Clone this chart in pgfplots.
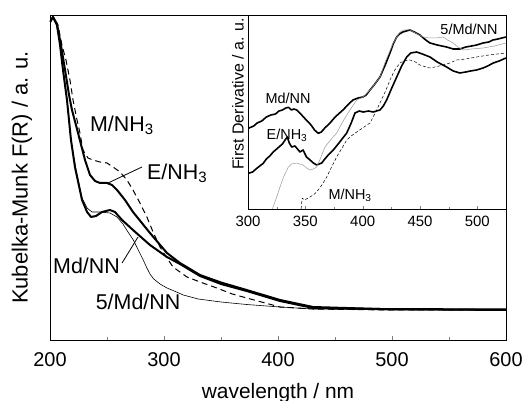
\documentclass[border=0pt]{standalone}
\usepackage{pgfplots}
\pgfplotsset{compat=1.18}
\usepackage{fontspec}
\setmainfont{Liberation Sans}
\begin{document}
\begin{tikzpicture}
% ---------------- main axis ----------------
\begin{axis}[
  at={(50bp,61bp)}, anchor=south west,
  width=456bp, height=325bp, scale only axis,
  xmin=200, xmax=600, ymin=0, ymax=325,
  xtick={200,300,400,500,600}, minor x tick num=1,
  ytick=\empty,
  xtick pos=bottom, tick align=inside,
  major tick length=4bp, minor tick length=3bp,
  /pgf/number format/assume math mode=true,
  xticklabel style={font=\fontsize{20}{22}\selectfont, anchor=base, yshift=-26bp, inner sep=0pt},
  xlabel={wavelength / nm}, ylabel={Kubelka-Munk F(R) / a. u.},
  xlabel style={font=\fontsize{21}{24}\selectfont, at={(axis description cs:0.5,0)}, anchor=base, yshift=-58bp, inner sep=0pt},
  ylabel style={font=\fontsize{22}{24}\selectfont, at={(axis description cs:0,0.5)}, anchor=center, yshift=28bp, inner sep=0pt},
  every axis plot/.append style={line join=round},
  axis line style={line width=0.8bp},
]
% Md/NN
\addplot[black, line width=2bp] coordinates {
(200,318)(202.6,323)(206.1,315)(208.8,295)(211.4,270)(214.9,240)(218.4,200)(221.9,173)(228.1,140)(232.5,128)(236,123)(240.4,124)(245.6,128)(252.6,130)(257,128)(263.2,120)(272.8,110)(287.7,95)(302.6,83)(314,76)(331.6,64)(350,56)(372.5,49)(401.8,39)(430.7,32)(489.5,31)(600,30)};
% E/NH3
\addplot[black, line width=2bp] coordinates {
(200,318)(202.6,323)(206.1,316)(209.6,295)(213.2,270)(216.7,245)(219.3,230)(224.6,207)(230.7,180)(235.1,165)(239.5,159)(243.9,157)(250,157)(254.4,155)(258.8,150)(265.8,140)(272.8,128)(287.7,107)(302.6,87)(314,77)(331.6,65)(350,57.5)(372.5,50)(401.8,40)(430.7,33)(489.5,31)(600,30.5)};
% M/NH3
\addplot[black, line width=1bp, dash pattern=on 6bp off 4bp] coordinates {
(200,318)(202.6,323)(207,315)(210.5,295)(214,280)(217.5,260)(220.2,240)(223.7,220)(226.3,207)(228.9,190)(233.3,182)(237.7,180)(243.9,178)(250,177)(255.3,173)(261.4,168)(267.5,160)(272.8,150)(278.9,137)(285,123)(290.4,108)(296.5,93)(302.6,82)(307.9,73)(314,68)(320.2,63)(331.6,58)(343.9,53)(360,46)(372.5,42)(401.8,33)(430.7,31)(500,30)(600,30)};
% 5/Md/NN
\addplot[black, line width=0.6bp] coordinates {
(200,318)(202.6,323)(206.1,315)(208.8,295)(211.4,270)(214.9,240)(218.4,200)(222.8,170)(228.1,142)(232.5,132)(236.8,128)(243.9,128)(252.6,127)(258.8,123)(264,116)(268.4,108)(273.1,100)(277,91)(281.8,80)(285,72)(287.7,66)(291,61)(296.5,56)(302.6,52)(309,49)(316.9,45)(330,41)(350,38)(372.5,35.5)(401.8,33)(430.7,31)(500,30)(600,30)};
% labels
\node[anchor=west, font=\fontsize{21.5}{24}\selectfont, inner sep=0pt] at (axis cs:235,215) {M/NH\textsubscript{3}};
\node[anchor=west, font=\fontsize{21.5}{24}\selectfont, inner sep=0pt] at (axis cs:285,167) {E/NH\textsubscript{3}};
\node[anchor=west, font=\fontsize{21.5}{24}\selectfont, inner sep=0pt] at (axis cs:202.6,74) {Md/NN};
\node[anchor=west, font=\fontsize{21.5}{24}\selectfont, inner sep=0pt] at (axis cs:240,38) {5/Md/NN};
\draw[line width=0.8bp] (axis cs:250.9,157) -- (axis cs:280.7,173);
\draw[line width=0.8bp] (axis cs:263.2,77) -- (axis cs:277.2,103);
\end{axis}
% ---------------- inset ----------------
\begin{axis}[
  at={(248bp,192bp)}, anchor=south west,
  width=258bp, height=194bp, scale only axis,
  xmin=300, xmax=525, ymin=0, ymax=194,
  xtick={300,350,400,450,500}, minor x tick num=1,
  ytick=\empty,
  xtick pos=bottom, tick align=inside,
  major tick length=3bp, minor tick length=2bp,
  /pgf/number format/assume math mode=true,
  xticklabel style={font=\fontsize{15}{17}\selectfont, anchor=base, yshift=-18bp, inner sep=0pt},
  ylabel={First Derivative / a. u.},
  ylabel style={font=\fontsize{16}{18}\selectfont, at={(axis description cs:0,0.593)}, anchor=center, yshift=10bp, inner sep=0pt},
  axis background/.style={fill=white},
  every axis plot/.append style={line join=round},
  axis line style={line width=0.8bp},
]
% Md/NN
\addplot[black, line width=1.6bp] coordinates {
(300.3,80.7)(305,83)(308,86)(312,88)(316,92)(320,94)(324,95)(327,98)(330,99)(333,101)(335.2,101.7)(338,99)(340,100)(342.5,99)(346,95)(350,90)(355,84)(358,79)(361.3,75.7)(364,77)(367,81)(371.5,86)(376,92)(382.8,99)(387,104)(391.5,109)(396,111)(400.3,112)(403,114)(406.4,119)(410,124)(415.1,132)(420,145)(423.8,156)(427,166)(429.7,172)(432,175)(435.1,177)(438,178)(441.2,179)(445,177)(449.9,174)(455,169)(458.7,166)(465,164)(473.2,162)(479,160)(484.8,160)(490,162)(495,163)(499.4,164)(505,166)(510,167)(513.6,169)(518,170)(524.9,172)};
% E/NH3
\addplot[black, line width=1.6bp] coordinates {
(300.3,35.7)(304,37)(308,41)(313.3,45.7)(316,50)(319,53)(322,57)(325,60)(328,63)(330,65)(332.3,69)(334.3,72)(336,66)(338.1,62)(341,63)(345.3,57)(348,59)(351,52)(354.1,49)(357,46)(359.9,44)(362,45)(364.3,46)(367,50)(370,54)(374.4,59)(380,67)(386.1,76)(390,86)(393.3,96)(397,98)(400.5,97)(405,98)(409.2,97)(412,98)(415.1,99)(418,103)(420.9,109)(425,120)(429.7,132)(434,143)(438.4,152)(442,156)(447.1,157)(452,155)(458.7,152)(465,147)(473.2,142)(479,138)(484.8,136)(490,137)(494,138)(499.4,139)(505,141)(509,143)(513.9,146)(519,148)(524.9,151)};
% 5/Md/NN (thin gray)
\addplot[gray!80, line width=0.5bp] coordinates {
(321,0)(322,2.3)(325,12)(327.9,22)(331,32)(335.2,42)(338,45)(342.5,46)(345,45)(348.2,44)(351,41)(354.1,39)(357,40)(359.9,42)(363,50)(367.1,62)(372,69)(377.3,76)(383,88)(388.9,99)(394.8,109)(400.5,112)(406.4,119)(410,124)(415.1,132)(420,148)(426.7,166)(432.5,177)(436,179)(441.2,179)(446,176)(452.8,172)(458,171)(464.4,171)(470.2,172)(474,169)(478.9,166)(483,162)(487.7,159)(495,160)(505.1,161)(515,163)(524.9,166)};
% M/NH3 (thin dashed)
\addplot[black, line width=0.5bp, dash pattern=on 3bp off 2bp] coordinates {
(346.3,0)(347.2,11)(349.2,9)(354.1,12)(358,15)(361.3,19)(365,25)(368.6,32)(372,40)(377.3,52)(382,61)(386.1,69)(390,73)(394.8,77)(400,81)(406.4,86)(410,94)(415.1,106)(420,118)(423.8,129)(428,139)(432.5,146)(436,148)(441.2,149)(446,147)(449.9,144)(455,142)(458.7,141)(463,142)(470.2,144)(476,146)(481.9,149)(490,150)(499.4,152)(510,154)(524.9,156)};
% labels
\node[font=\fontsize{14.5}{16}\selectfont, inner sep=0pt] at (axis cs:334.9,111) {Md/NN};
\node[font=\fontsize{14.5}{16}\selectfont, inner sep=0pt] at (axis cs:334,74) {E/NH\textsubscript{3}};
\node[font=\fontsize{14.5}{16}\selectfont, inner sep=0pt] at (axis cs:389,14) {M/NH\textsubscript{3}};
\node[font=\fontsize{14.5}{16}\selectfont, inner sep=0pt] at (axis cs:492.7,180) {5/Md/NN};
\end{axis}
\pgfresetboundingbox
\path[use as bounding box] (0,0) rectangle (525bp,401bp);
\end{tikzpicture}
\end{document}
